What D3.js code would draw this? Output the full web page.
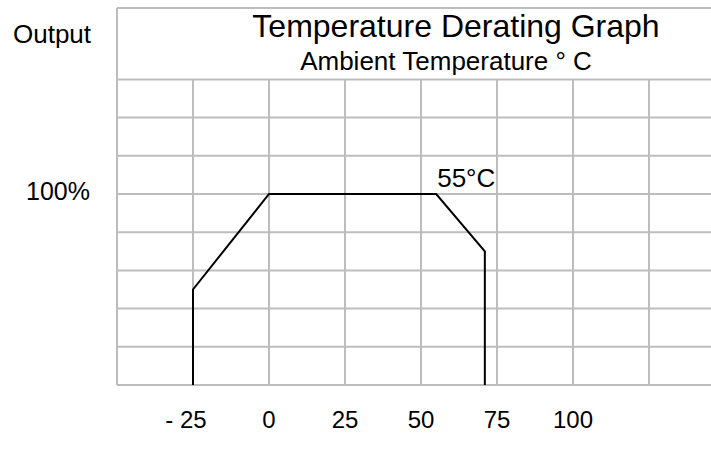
<!DOCTYPE html>
<html>
<head>
<meta charset="utf-8">
<title>Temperature Derating Graph</title>
<style>
  body { margin: 0; background: #fff; }
  text { font-family: "Liberation Sans", Arial, sans-serif; fill: #000; }
</style>
</head>
<body>
<div id="container"></div>
<script src="https://d3js.org/d3.v7.min.js"></script>
<script>
// Derating curve: temperature (°C) vs output (%)
const temps = [-25, -25, 0, 55, 71, 71];
const outputs = [0, 50, 100, 100, 70, 0];

// Grid lines and tick labels
const xGrid = [-25, 0, 25, 50, 75, 100, 125];
const xTickValues = [-25, 0, 25, 50, 75, 100];
const xTickLabels = ["- 25", "0", "25", "50", "75", "100"];
const yGrid = [0, 20, 40, 60, 80, 100, 120, 140, 160];

const width = 711;
const height = 450;

const x = d3.scaleLinear()
    .domain([-50, 125])
    .range([117, 649]);

const y = d3.scaleLinear()
    .domain([0, 100])
    .range([385, 194]);

const svg = d3.create("svg")
    .attr("width", width)
    .attr("height", height);

const gridColor = "#bdbdbd";

// horizontal grid lines run out to the right edge
svg.append("g")
  .selectAll("line")
  .data(yGrid)
  .join("line")
    .attr("x1", x(-50))
    .attr("x2", width)
    .attr("y1", d => y(d))
    .attr("y2", d => y(d))
    .attr("stroke", gridColor)
    .attr("stroke-width", 2);

// vertical grid lines (below the title band only)
svg.append("g")
  .selectAll("line")
  .data(xGrid)
  .join("line")
    .attr("x1", d => x(d))
    .attr("x2", d => x(d))
    .attr("y1", y(160))
    .attr("y2", y(0))
    .attr("stroke", gridColor)
    .attr("stroke-width", 2);

// frame: left edge and top edge
svg.append("line")
    .attr("x1", x(-50)).attr("x2", x(-50))
    .attr("y1", 8).attr("y2", y(0))
    .attr("stroke", gridColor).attr("stroke-width", 2);
svg.append("line")
    .attr("x1", x(-50)).attr("x2", width)
    .attr("y1", 8).attr("y2", 8)
    .attr("stroke", gridColor).attr("stroke-width", 2);

// derating curve
const line = d3.line()
    .x((d, i) => x(temps[i]))
    .y((d, i) => y(outputs[i]));

svg.append("path")
    .attr("fill", "none")
    .attr("stroke", "#000")
    .attr("stroke-width", 2)
    .attr("d", line(temps));

// x tick labels (digits centred on the grid line, "- " hangs left)
svg.append("g")
  .selectAll("text")
  .data(xTickValues)
  .join("text")
    .attr("x", d => x(d))
    .attr("dx", d => d < 0 ? -7 : 0)
    .attr("y", 428)
    .attr("text-anchor", "middle")
    .attr("font-size", 24)
    .text((d, i) => xTickLabels[i]);

// y labels
svg.append("text")
    .attr("x", 90).attr("y", 200)
    .attr("text-anchor", "end")
    .attr("font-size", 25)
    .text("100%");

svg.append("text")
    .attr("x", 13).attr("y", 43)
    .attr("font-size", 26)
    .text("Output");

// titles
svg.append("text")
    .attr("x", 456).attr("y", 37)
    .attr("text-anchor", "middle")
    .attr("font-size", 32)
    .text("Temperature Derating Graph");

svg.append("text")
    .attr("x", 446).attr("y", 70)
    .attr("text-anchor", "middle")
    .attr("font-size", 26)
    .text("Ambient Temperature ° C");

// 55°C annotation
svg.append("text")
    .attr("x", x(55) + 1).attr("y", 187)
    .attr("text-anchor", "start")
    .attr("font-size", 26)
    .text("55°C");

container.append(svg.node());
</script>
</body>
</html>
